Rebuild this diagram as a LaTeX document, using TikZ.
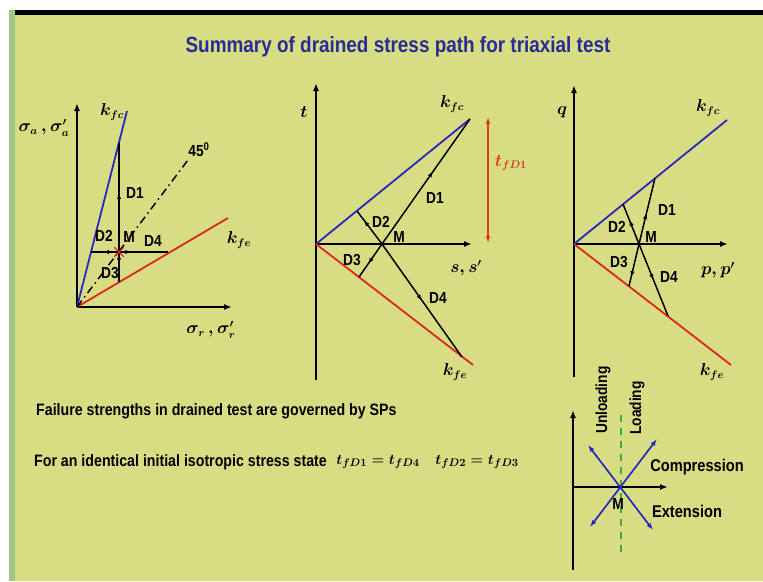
\documentclass[tikz,border=0pt]{standalone}
\usepackage{fontspec}
\setmainfont{Liberation Sans}
\newfontfamily\narrowsans[FakeStretch=0.86]{Liberation Sans}
\usetikzlibrary{arrows.meta,decorations.markings,shapes.misc}

\definecolor{slidebg}{RGB}{216,221,132}
\definecolor{slidestripe}{RGB}{160,200,130}
\definecolor{titleblue}{RGB}{40,44,150}
\definecolor{pathblue}{RGB}{40,40,190}
\definecolor{pathred}{RGB}{220,40,30}
\definecolor{noteorange}{RGB}{215,60,30}
\definecolor{dashgreen}{RGB}{60,170,60}

\tikzset{
  axis/.style={line width=1.8pt, -{Latex[length=8pt,width=6pt]}},
  kfcline/.style={line width=1.8pt, pathblue},
  kfeline/.style={line width=1.8pt, pathred},
  spath/.style={line width=1.5pt, black},
  arrowat/.style={postaction={decorate},
    decoration={markings, mark=at position #1 with {\arrow{Latex[length=6pt,width=4.5pt]}}}},
  lbl/.style={font=\narrowsans\bfseries\fontsize{16}{16}\selectfont, inner sep=1pt},
  mlbl/.style={font=\fontsize{16}{16}\selectfont\boldmath, inner sep=1pt},
  txt/.style={font=\narrowsans\bfseries\fontsize{16.5}{17}\selectfont, anchor=west, inner sep=0pt},
}

\begin{document}
\begin{tikzpicture}[x=1pt,y=-1pt]
  % Slide background
  \fill[white] (0,0) rectangle (763,581);
  \fill[slidebg] (15,14) rectangle (763,581);
  \fill[slidestripe] (9,10) rectangle (15,581);
  \fill[black] (15,10) rectangle (763,15);
  \useasboundingbox (0,0) rectangle (763,581);

  % Title
  \node[font=\narrowsans\bfseries\fontsize{22}{22}\selectfont, text=titleblue] (title) at (398,47)
    {Summary of drained stress path for triaxial test};

  % ---- Left: sigma_a vs sigma_r ----
  \coordinate (oa) at (77,307);
  \coordinate (axa) at (77,103);
  \coordinate (axr) at (232,307);
  \draw[axis] (oa) -- (axa);
  \draw[axis] (oa) -- (axr);
  \node[mlbl] (siga) at (44,128) {$\sigma_a\,,\sigma'_a$};
  \node[mlbl] (sigr) at (211,330) {$\sigma_r\,,\sigma'_r$};

  \coordinate (kca) at (127,111);
  \coordinate (kea) at (228,218);
  \draw[kfcline] (oa) -- (kca);
  \draw[kfeline] (oa) -- (kea);
  \node[mlbl] (lkca) at (112,112) {$k_{fc}$};
  \node[mlbl] (lkea) at (239,240) {$k_{fe}$};

  % 45 degree line
  \coordinate (diag) at (188,160);
  \draw[line width=1.5pt, dash pattern=on 8pt off 4pt on 1.5pt off 4pt] (oa) -- (diag);
  \node[lbl] (deg) at (199,150) {45\textsuperscript{0}};

  % Stress paths
  \coordinate (ma) at (119,252);
  \coordinate (d1a) at (119,143);
  \coordinate (d3a) at (119,282);
  \coordinate (d2a) at (91,252);
  \coordinate (d4a) at (168,252);
  \draw[spath, arrowat=0.54] (ma) -- (d1a);
  \draw[spath, arrowat=0.4] (ma) -- (d3a);
  \draw[spath, arrowat=0.57] (ma) -- (d2a);
  \draw[spath, arrowat=0.25] (ma) -- (d4a);
  \node[cross out, draw=pathred, line width=1.4pt, minimum size=8pt, inner sep=0pt] (xa) at (ma) {};
  \node[lbl] (la1) at (135,193) {D1};
  \node[lbl] (la2) at (104,236) {D2};
  \node[lbl] (lam) at (129,237) {M};
  \node[lbl] (la4) at (153,241) {D4};
  \node[lbl] (la3) at (110,273) {D3};

  % ---- Middle: t vs s ----
  \coordinate (ob) at (316,244);
  \coordinate (bbot) at (316,380);
  \coordinate (btop) at (316,83);
  \coordinate (bright) at (472,244);
  \draw[axis] (bbot) -- (btop);
  \draw[axis] (ob) -- (bright);
  \node[mlbl] (lt) at (304,112) {$t$};
  \node[mlbl] (ls) at (466,268) {$s,s'$};

  \coordinate (kcb) at (470,119);
  \coordinate (keb) at (473,365);
  \draw[kfcline] (ob) -- (kcb);
  \draw[kfeline] (ob) -- (keb);
  \node[mlbl] (lkcb) at (452,104) {$k_{fc}$};
  \node[mlbl] (lkeb) at (455,372) {$k_{fe}$};

  \coordinate (mb) at (382,244);
  \coordinate (d3b) at (359,277);
  \coordinate (d2b) at (357,211);
  \coordinate (d4b) at (462,357);
  \draw[spath, arrowat=0.58] (mb) -- (kcb);
  \draw[spath, arrowat=0.72] (mb) -- (d2b);
  \draw[spath, arrowat=0.6] (mb) -- (d3b);
  \draw[spath, arrowat=0.5] (mb) -- (d4b);
  \node[lbl] (lb1) at (435,198) {D1};
  \node[lbl] (lb2) at (381,222) {D2};
  \node[lbl] (lbm) at (399,237) {M};
  \node[lbl] (lb3) at (352,260) {D3};
  \node[lbl] (lb4) at (438,298) {D4};

  % Failure strength marker
  \coordinate (tfa) at (488,117);
  \coordinate (tfb) at (488,243);
  \draw[noteorange, line width=1.3pt, {Latex[length=7pt,width=5pt]}-{Latex[length=7pt,width=5pt]}] (tfa) -- (tfb);
  \node[mlbl, text=noteorange] (ltf) at (511,163) {$t_{fD1}$};

  % ---- Right: q vs p ----
  \coordinate (oc) at (574,244);
  \coordinate (cbot) at (574,377);
  \coordinate (ctop) at (574,85);
  \coordinate (cright) at (728,244);
  \draw[axis] (cbot) -- (ctop);
  \draw[axis] (oc) -- (cright);
  \node[mlbl] (lq) at (562,112) {$q$};
  \node[mlbl] (lp) at (718,270) {$p,p'$};

  \coordinate (kcc) at (727,120);
  \coordinate (kec) at (731,365);
  \draw[kfcline] (oc) -- (kcc);
  \draw[kfeline] (oc) -- (kec);
  \node[mlbl] (lkcc) at (708,108) {$k_{fc}$};
  \node[mlbl] (lkec) at (712,372) {$k_{fe}$};

  \coordinate (mc) at (639,244);
  \coordinate (d1c) at (655,178);
  \coordinate (d3c) at (629,286);
  \coordinate (d2c) at (623,204);
  \coordinate (d4c) at (668,316);
  \draw[spath, arrowat=0.47] (mc) -- (d1c);
  \draw[spath, arrowat=0.6] (mc) -- (d2c);
  \draw[spath, arrowat=0.79] (mc) -- (d3c);
  \draw[spath, arrowat=0.5] (mc) -- (d4c);
  \node[lbl] (lc1) at (667,210) {D1};
  \node[lbl] (lc2) at (617,227) {D2};
  \node[lbl] (lcm) at (651,237) {M};
  \node[lbl] (lc3) at (619,262) {D3};
  \node[lbl] (lc4) at (669,277) {D4};

  % ---- Legend sketch ----
  \coordinate (dbot) at (573,570);
  \coordinate (dtop) at (573,410);
  \coordinate (dleft) at (573,487);
  \coordinate (dright) at (668,487);
  \draw[axis] (dbot) -- (dtop);
  \draw[axis] (dleft) -- (dright);
  \coordinate (md) at (621,487);
  \coordinate (gtop) at (621,415);
  \coordinate (gbot) at (621,552);
  \draw[dashgreen, line width=1.4pt, dash pattern=on 7pt off 6pt] (gtop) -- (gbot);
  \coordinate (cpa) at (590,527);
  \coordinate (cpb) at (657,439);
  \coordinate (exa) at (588,445);
  \coordinate (exb) at (653,530);
  \draw[pathblue, line width=1.7pt, {Latex[length=7pt,width=5pt]}-{Latex[length=7pt,width=5pt]}] (cpa) -- (cpb);
  \draw[pathblue, line width=1.7pt, {Latex[length=7pt,width=5pt]}-{Latex[length=7pt,width=5pt]}] (exa) -- (exb);
  \node[lbl] (ldm) at (618,504) {M};
  \node[lbl, rotate=90, font=\narrowsans\bfseries\fontsize{16}{16}\selectfont] (lunl) at (603,400) {Unloading};
  \node[lbl, rotate=90, font=\narrowsans\bfseries\fontsize{16}{16}\selectfont] (lload) at (637,408) {Loading};
  \node[lbl, font=\narrowsans\bfseries\fontsize{17}{17}\selectfont] (lcomp) at (697,467) {Compression};
  \node[lbl, font=\narrowsans\bfseries\fontsize{17}{17}\selectfont] (lext) at (687,511) {Extension};

  % ---- Notes ----
  \node[txt] (note1) at (36,411) {Failure strengths in drained test are governed by SPs};
  \node[txt] (note2) at (34,462) {For an identical initial isotropic stress state};
  \node[mlbl, font=\fontsize{15}{15}\selectfont\boldmath] (eq1) at (378,462) {$t_{fD1}=t_{fD4}$};
  \node[mlbl, font=\fontsize{15}{15}\selectfont\boldmath] (eq2) at (477,462) {$t_{fD2}=t_{fD3}$};
\end{tikzpicture}
\end{document}
